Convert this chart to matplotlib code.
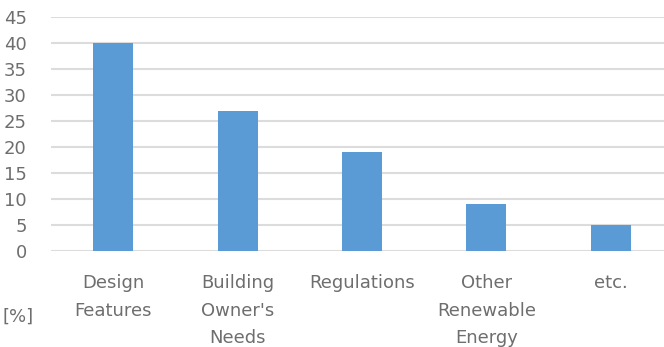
import matplotlib
matplotlib.use("Agg")
import matplotlib.pyplot as plt

categories = ["Design\nFeatures", "Building\nOwner's\nNeeds", "Regulations", "Other\nRenewable\nEnergy", "etc."]
values = [40, 27, 19, 9, 5]
yticks = [0, 5, 10, 15, 20, 25, 30, 35, 40, 45]

plt.rcParams['font.family'] = ['DejaVu Sans']
text_color = '#6e6e6e'

fig = plt.figure(figsize=(6.64, 3.47), dpi=100)
W, H = 664, 347
ax = fig.add_axes([51 / W, 1 - 251 / H, 622 / W, 234 / H])

x = list(range(len(categories)))
ax.bar(x, values, width=0.32, color='#5b9bd5', zorder=3)
ax.set_xlim(-0.5, len(categories) - 0.5)
ax.set_ylim(0, 45)
ax.set_yticks(yticks)
ax.set_yticklabels([str(t) for t in yticks])
ax.yaxis.grid(True, color='#dcdcdc', linewidth=1.5, zorder=0)
ax.set_axisbelow(True)
for s in ax.spines.values():
    s.set_visible(False)
ax.tick_params(axis='y', length=0, labelsize=13, labelcolor=text_color, pad=17.5)
ax.set_xticks(x)
ax.set_xticklabels(categories, linespacing=1.69)
ax.tick_params(axis='x', length=0, labelsize=13, labelcolor=text_color, pad=16.5)
for lbl in ax.get_xticklabels():
    lbl.set_verticalalignment('top')

fig.text(18 / W, 1 - 317 / H, '[%]', fontsize=13, color=text_color, ha='center', va='center')

fig.savefig('out.png', dpi=100)
